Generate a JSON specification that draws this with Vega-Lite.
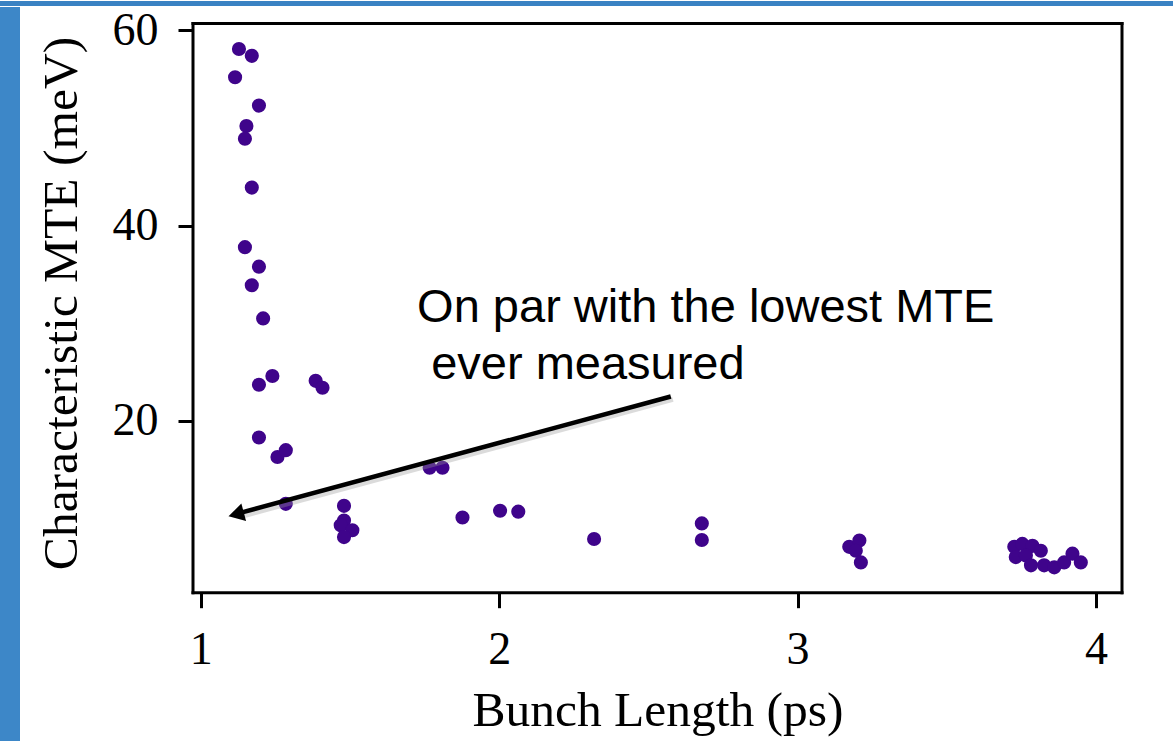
{
  "$schema": "https://vega.github.io/schema/vega-lite/v6.json",
  "background": "white",
  "padding": 0,
  "autosize": {"type": "pad"},
  "config": {"view": {"stroke": null}, "concat": {"spacing": 0}},
  "datasets": {
    "mte": [
      {"bunch_ps": 1.128, "mte_meV": 58.1},
      {"bunch_ps": 1.171, "mte_meV": 57.4},
      {"bunch_ps": 1.115, "mte_meV": 55.2},
      {"bunch_ps": 1.195, "mte_meV": 52.3},
      {"bunch_ps": 1.153, "mte_meV": 50.2},
      {"bunch_ps": 1.148, "mte_meV": 48.9},
      {"bunch_ps": 1.171, "mte_meV": 43.9},
      {"bunch_ps": 1.148, "mte_meV": 37.8},
      {"bunch_ps": 1.195, "mte_meV": 35.8},
      {"bunch_ps": 1.171, "mte_meV": 33.9},
      {"bunch_ps": 1.209, "mte_meV": 30.5},
      {"bunch_ps": 1.195, "mte_meV": 23.7},
      {"bunch_ps": 1.240, "mte_meV": 24.6},
      {"bunch_ps": 1.385, "mte_meV": 24.1},
      {"bunch_ps": 1.408, "mte_meV": 23.4},
      {"bunch_ps": 1.195, "mte_meV": 18.3},
      {"bunch_ps": 1.257, "mte_meV": 16.3},
      {"bunch_ps": 1.285, "mte_meV": 17.0},
      {"bunch_ps": 1.285, "mte_meV": 11.5},
      {"bunch_ps": 1.480, "mte_meV": 11.3},
      {"bunch_ps": 1.480, "mte_meV": 9.8},
      {"bunch_ps": 1.469, "mte_meV": 9.3},
      {"bunch_ps": 1.508, "mte_meV": 8.8},
      {"bunch_ps": 1.480, "mte_meV": 8.1},
      {"bunch_ps": 1.767, "mte_meV": 15.2},
      {"bunch_ps": 1.810, "mte_meV": 15.2},
      {"bunch_ps": 1.877, "mte_meV": 10.1},
      {"bunch_ps": 2.003, "mte_meV": 10.8},
      {"bunch_ps": 2.064, "mte_meV": 10.7},
      {"bunch_ps": 2.318, "mte_meV": 7.9},
      {"bunch_ps": 2.679, "mte_meV": 9.5},
      {"bunch_ps": 2.679, "mte_meV": 7.8},
      {"bunch_ps": 3.173, "mte_meV": 7.1},
      {"bunch_ps": 3.207, "mte_meV": 7.75},
      {"bunch_ps": 3.195, "mte_meV": 6.7},
      {"bunch_ps": 3.212, "mte_meV": 5.5},
      {"bunch_ps": 3.726, "mte_meV": 7.1},
      {"bunch_ps": 3.753, "mte_meV": 7.4},
      {"bunch_ps": 3.787, "mte_meV": 7.2},
      {"bunch_ps": 3.815, "mte_meV": 6.7},
      {"bunch_ps": 3.731, "mte_meV": 6.05},
      {"bunch_ps": 3.765, "mte_meV": 6.2},
      {"bunch_ps": 3.782, "mte_meV": 5.2},
      {"bunch_ps": 3.826, "mte_meV": 5.2},
      {"bunch_ps": 3.860, "mte_meV": 5.0},
      {"bunch_ps": 3.893, "mte_meV": 5.5},
      {"bunch_ps": 3.921, "mte_meV": 6.4},
      {"bunch_ps": 3.949, "mte_meV": 5.5}
    ]
  },
  "spacing": 0,
  "vconcat": [
    {
      "width": 1173,
      "height": 5,
      "data": {"values": [{"k": 1}]},
      "mark": {"type": "point", "opacity": 0},
      "view": {"fill": "#3a82c3", "stroke": null}
    },
    {
      "spacing": 15,
      "hconcat": [
        {
          "width": 20,
          "height": 736,
          "data": {"values": [{"k": 1}]},
          "mark": {"type": "point", "opacity": 0},
          "view": {"fill": "#3d87c8", "stroke": null}
        },
        {
          "width": 929,
          "height": 585.7,
          "view": {"stroke": null, "fill": "white"},
          "data": {"name": "mte"},
          "layer": [
            {
              "mark": {"type": "circle", "size": 200, "opacity": 1, "color": "#3f048b"},
              "encoding": {
                "x": {
                  "field": "bunch_ps",
                  "type": "quantitative",
                  "scale": {"domain": [0.974, 4.087], "nice": false, "zero": false},
                  "axis": {
                    "values": [1, 2, 3, 4],
                    "format": "d",
                    "title": "Bunch Length (ps)",
                    "domain": false,
                    "grid": false,
                    "ticks": true,
                    "tickSize": 15,
                    "tickWidth": 3,
                    "tickColor": "black",
                    "labelFont": "Liberation Serif",
                    "labelFontSize": 46,
                    "labelColor": "black",
                    "labelPadding": 20,
                    "labelFlush": false,
                    "titleFont": "Liberation Serif",
                    "titleFontSize": 49.5,
                    "titleFontWeight": "normal",
                    "titleColor": "black",
                    "titlePadding": 14
                  }
                },
                "y": {
                  "field": "mte_meV",
                  "type": "quantitative",
                  "scale": {"domain": [2.4, 62.4], "nice": false, "zero": false},
                  "axis": {
                    "values": [20, 40, 60],
                    "format": "d",
                    "title": "Characteristic MTE (meV)",
                    "titleY": 296,
                    "domain": false,
                    "grid": false,
                    "ticks": true,
                    "tickSize": 15,
                    "tickWidth": 3,
                    "tickColor": "black",
                    "labelFont": "Liberation Serif",
                    "labelFontSize": 46,
                    "labelColor": "black",
                    "labelPadding": 20,
                    "labelFlush": false,
                    "titleFont": "Liberation Serif",
                    "titleFontSize": 49.5,
                    "titleFontWeight": "normal",
                    "titleColor": "black",
                    "titlePadding": 26
                  }
                }
              }
            },
            {
              "data": {"values": [{"k": 1}]},
              "mark": {"type": "rule", "color": "black", "strokeWidth": 3, "strokeCap": "square"},
              "encoding": {
                "x": {"datum": 0.974, "type": "quantitative"},
                "x2": {"datum": 4.087},
                "y": {"datum": 60.7, "type": "quantitative"}
              }
            },
            {
              "data": {"values": [{"k": 1}]},
              "mark": {"type": "rule", "color": "black", "strokeWidth": 3, "strokeCap": "square"},
              "encoding": {
                "x": {"datum": 0.974, "type": "quantitative"},
                "x2": {"datum": 4.087},
                "y": {"datum": 2.4, "type": "quantitative"}
              }
            },
            {
              "data": {"values": [{"k": 1}]},
              "mark": {"type": "rule", "color": "black", "strokeWidth": 3, "strokeCap": "square"},
              "encoding": {
                "x": {"datum": 0.974, "type": "quantitative"},
                "y": {"datum": 2.4, "type": "quantitative"},
                "y2": {"datum": 60.7}
              }
            },
            {
              "data": {"values": [{"k": 1}]},
              "mark": {"type": "rule", "color": "black", "strokeWidth": 3, "strokeCap": "square"},
              "encoding": {
                "x": {"datum": 4.087, "type": "quantitative"},
                "y": {"datum": 2.4, "type": "quantitative"},
                "y2": {"datum": 60.7}
              }
            },
            {
              "data": {"values": [{"k": 1}]},
              "mark": {"type": "rule", "color": "#999999", "opacity": 0.35, "strokeWidth": 5},
              "encoding": {
                "x": {"datum": 2.582, "type": "quantitative"},
                "y": {"datum": 22.2, "type": "quantitative"},
                "x2": {"datum": 1.133},
                "y2": {"datum": 10.2}
              }
            },
            {
              "data": {"values": [{"k": 1}]},
              "mark": {"type": "rule", "color": "black", "strokeWidth": 4.5},
              "encoding": {
                "x": {"datum": 2.575, "type": "quantitative"},
                "y": {"datum": 22.5, "type": "quantitative"},
                "x2": {"datum": 1.126},
                "y2": {"datum": 10.53}
              }
            },
            {
              "data": {"values": [{"k": 1}]},
              "mark": {"type": "point", "shape": "triangle", "filled": true, "color": "black", "opacity": 1, "size": 330, "angle": 255},
              "encoding": {
                "x": {"datum": 1.127, "type": "quantitative"},
                "y": {"datum": 10.5, "type": "quantitative"}
              }
            },
            {
              "data": {"values": [{"k": 1}]},
              "mark": {"type": "text", "text": "On par with the lowest MTE", "font": "Liberation Sans", "fontSize": 47, "color": "black", "align": "left", "baseline": "alphabetic"},
              "encoding": {
                "x": {"datum": 1.725, "type": "quantitative"},
                "y": {"datum": 30.1, "type": "quantitative"}
              }
            },
            {
              "data": {"values": [{"k": 1}]},
              "mark": {"type": "text", "text": "ever measured", "font": "Liberation Sans", "fontSize": 47, "color": "black", "align": "left", "baseline": "alphabetic"},
              "encoding": {
                "x": {"datum": 1.772, "type": "quantitative"},
                "y": {"datum": 24.3, "type": "quantitative"}
              }
            }
          ]
        }
      ]
    }
  ]
}
